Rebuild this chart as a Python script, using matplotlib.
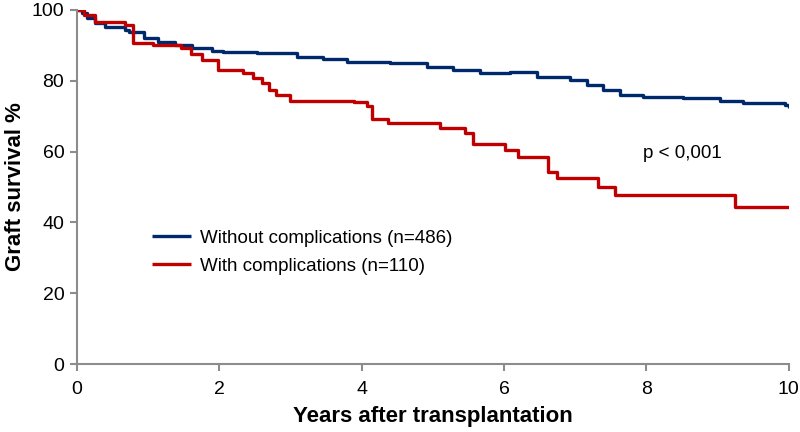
import matplotlib
matplotlib.use("Agg")
import matplotlib.pyplot as plt

# survival curves (years, graft survival %)
years_without = [0, 0.08, 0.15, 0.25, 0.4, 0.67, 0.74, 0.95, 1.14, 1.38, 1.62, 1.9,
                 2.05, 2.53, 3.09, 3.46, 3.8, 4.4, 4.92, 5.28, 5.66, 6.08, 6.46,
                 6.92, 7.16, 7.39, 7.63, 7.95, 8.51, 9.03, 9.35, 9.94, 10.0]
surv_without = [100, 99, 97.7, 96.3, 95.2, 94.4, 93.8, 92.1, 91.0, 90.1, 89.3, 88.4,
                88.2, 87.9, 86.8, 86.2, 85.3, 85.0, 83.9, 83.1, 82.2, 82.5, 81.1,
                80.2, 78.8, 77.4, 76.0, 75.4, 75.1, 74.2, 73.6, 73.1, 72.3]

years_with = [0, 0.1, 0.25, 0.67, 0.79, 1.07, 1.47, 1.6, 1.76, 1.98, 2.33, 2.47,
              2.6, 2.7, 2.8, 2.99, 3.9, 4.07, 4.14, 4.37, 5.1, 5.45, 5.56, 6.01,
              6.19, 6.62, 6.75, 7.32, 7.56, 9.24, 10.0]
surv_with = [100, 98.5, 96.6, 95.8, 90.7, 90.0, 89.3, 87.5, 85.9, 83.0, 82.2, 80.8,
             79.4, 77.4, 76.0, 74.4, 74.1, 72.9, 69.2, 68.1, 66.7, 65.3, 62.1, 60.5,
             58.5, 54.2, 52.5, 50.0, 47.7, 44.4, 44.4]

labels = ["Without complications (n=486)", "With complications (n=110)"]
colors = ["#00296B", "#C00000"]
x_ticks = [0, 2, 4, 6, 8, 10]
y_ticks = [0, 20, 40, 60, 80, 100]

narrow = ["Liberation Sans Narrow", "Liberation Sans", "DejaVu Sans"]
plt.rcParams["font.family"] = ["Liberation Sans", "DejaVu Sans"]

fig = plt.figure(figsize=(8, 4.32), dpi=100)
ax = fig.add_axes((0.096, 0.157, 0.89, 0.82))

ax.step(years_without, surv_without, where="post", color=colors[0], lw=2.4,
        label=labels[0], solid_capstyle="butt")
ax.step(years_with, surv_with, where="post", color=colors[1], lw=2.4,
        label=labels[1], solid_capstyle="butt")

ax.set_xlim(0, 10)
ax.set_ylim(0, 100)
ax.set_xticks(x_ticks)
ax.set_yticks(y_ticks)
ax.set_xticklabels([str(t) for t in x_ticks], family=narrow, fontsize=14)
ax.set_yticklabels([str(t) for t in y_ticks], family=narrow, fontsize=14)

for side in ("top", "right"):
    ax.spines[side].set_visible(False)
for side in ("left", "bottom"):
    ax.spines[side].set_color("#8c8c8c")
    ax.spines[side].set_linewidth(1.5)
ax.tick_params(axis="both", direction="out", length=5, width=1.5, color="#8c8c8c",
               labelcolor="black")
ax.tick_params(axis="x", pad=7)
ax.tick_params(axis="y", pad=4)

ax.set_xlabel("Years after transplantation", family=narrow, fontsize=16,
              fontweight="bold", labelpad=6)
ax.set_ylabel("Graft survival %", family=narrow, fontsize=16,
              fontweight="bold", labelpad=4)

ax.text(7.95, 59.6, "p < 0,001", fontsize=13.5, va="center", ha="left")

ax.legend(loc="center left", bbox_to_anchor=(0.105, 0.316), frameon=False,
          borderpad=0, borderaxespad=0, handlelength=2.1, handletextpad=0.5,
          labelspacing=0.6, fontsize=13.5)

fig.savefig("out.png", dpi=100)
